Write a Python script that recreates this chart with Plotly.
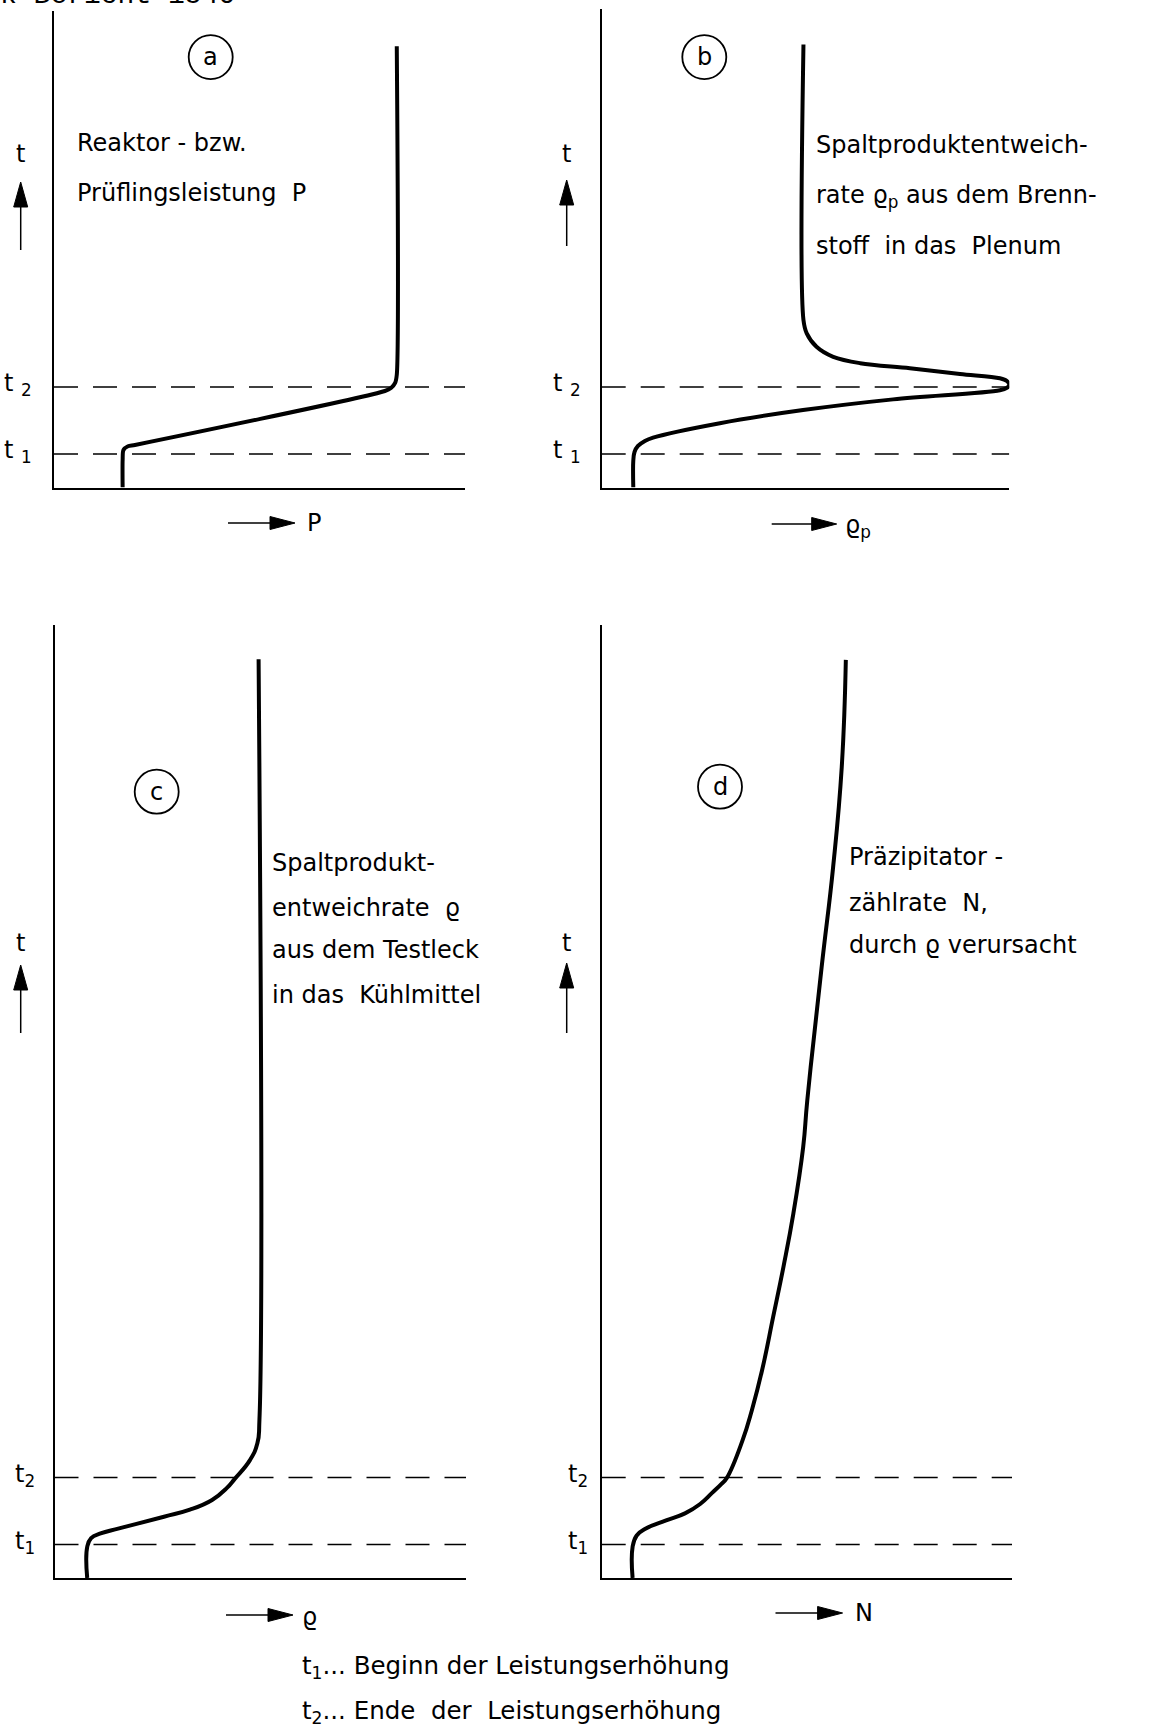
import plotly.graph_objects as go

W, H = 1163, 1728
FONT = "DejaVu Sans"

# time markers (t1 = start, t2 = end of power increase), in time units
T_MARKS = [1.0, 3.0]
T_LABELS = ["t<sub>1</sub>", "t<sub>2</sub>"]

# Panel a: Reaktor- bzw. Prüflingsleistung P (x in % of axis length)
a_t = [0, 0.82, 1.12, 1.23, 1.27, 2.88, 2.97, 3.12, 3.36, 13.17]
a_x = [16.7, 16.7, 16.9, 18.0, 19.7, 80.5, 82.0, 83.0, 83.4, 83.4]

# Panel b: Spaltproduktentweichrate rho_p (Brennstoff -> Plenum)
b_t = [0, 0.80, 1.06, 1.24, 1.39, 1.49, 1.92, 2.31, 2.63, 2.90, 2.97, 3.06,
       3.18, 3.26, 3.39, 3.56, 3.71, 3.90, 4.20, 4.60, 5.00, 13.22]
b_x = [7.75, 7.75, 8.05, 8.9, 10.6, 12.6, 29.0, 49.4, 71.5, 97.7, 99.4, 100.0,
       99.4, 97.7, 87.9, 75.6, 63.4, 56.8, 52.7, 50.3, 49.5, 49.5]

# Panel c: Spaltproduktentweichrate rho (Testleck -> Kühlmittel)
c_t = [0, 0.93, 1.19, 1.33, 1.48, 1.83, 2.04, 2.33, 2.69, 2.96, 3.52, 4.02, 4.72, 27.43]
c_x = [7.95, 7.95, 8.9, 11.2, 15.7, 26.6, 32.9, 38.3, 41.9, 43.8, 47.5, 49.3, 49.8, 49.6]

# Panel d: Präzipitatorzählrate N
d_t = [0, 0.93, 1.27, 1.47, 1.72, 1.93, 2.21, 2.54, 2.81, 2.99, 4.10, 5.01, 6.21,
       7.80, 9.29, 10.87, 12.86, 14.25, 18.23, 21.22, 24.20, 27.41]
d_x = [7.53, 7.53, 8.53, 10.65, 15.7, 20.3, 24.0, 26.9, 29.2, 30.5, 34.3, 36.6, 39.1,
       41.8, 44.3, 46.7, 49.1, 50.1, 53.6, 56.4, 58.5, 59.5]

X_RANGE = [0, 100]


def px(x):
    return x / W


def py(y):
    return 1 - y / H


# panel frames in pixels: (left, right, top, bottom, t-range top)
panels = {
    "a": dict(l=54, r=465, t=10.7, b=487.5, tmax=14.23, t_=a_t, x_=a_x, sm=0.8),
    "b": dict(l=601.7, r=1009.3, t=9, b=487.5, tmax=14.28, t_=b_t, x_=b_x, sm=1.0),
    "c": dict(l=54.5, r=466, t=625, b=1578, tmax=28.45, t_=c_t, x_=c_x, sm=1.3),
    "d": dict(l=601.7, r=1012, t=625, b=1578, tmax=28.45, t_=d_t, x_=d_x, sm=1.3),
}

fig = go.Figure()
layout = dict(
    width=W, height=H, margin=dict(l=0, r=0, t=0, b=0),
    paper_bgcolor="white", plot_bgcolor="white", showlegend=False,
    font=dict(family=FONT, color="black", size=24),
)

for i, (key, p) in enumerate(panels.items(), start=1):
    xa = "x" if i == 1 else f"x{i}"
    ya = "y" if i == 1 else f"y{i}"
    axis_common = dict(showline=True, linecolor="black", linewidth=2,
                       showticklabels=False, ticks="", showgrid=False,
                       zeroline=False, fixedrange=True)
    layout["xaxis" if i == 1 else f"xaxis{i}"] = dict(
        domain=[px(p["l"]), px(p["r"])], range=X_RANGE, anchor=ya, **axis_common)
    layout["yaxis" if i == 1 else f"yaxis{i}"] = dict(
        domain=[py(p["b"]), py(p["t"])], range=[0, p["tmax"]], anchor=xa, **axis_common)
    # dashed t1 / t2 lines
    for tm in T_MARKS:
        fig.add_trace(go.Scatter(x=X_RANGE, y=[tm, tm], mode="lines", xaxis=xa, yaxis=ya,
                                 line=dict(color="black", width=1.6, dash="24px,15px"),
                                 hoverinfo="skip"))
    # curve
    fig.add_trace(go.Scatter(x=p["x_"], y=p["t_"], mode="lines", xaxis=xa, yaxis=ya,
                             line=dict(color="black", width=4, shape="spline",
                                       smoothing=p["sm"]),
                             hoverinfo="skip"))

fig.update_layout(**layout)

shapes = []
ann = []


def text(x, y, s, size=24, xanchor="left", yanchor="middle", family=FONT):
    ann.append(dict(x=px(x), y=py(y), xref="paper", yref="paper", text=s,
                    showarrow=False, xanchor=xanchor, yanchor=yanchor,
                    font=dict(family=family, size=size, color="black")))


def circle_label(cx, cy, letter, r=22):
    shapes.append(dict(type="circle", xref="paper", yref="paper",
                       x0=px(cx - r), x1=px(cx + r), y0=py(cy + r), y1=py(cy - r),
                       line=dict(color="black", width=1.8)))
    text(cx, cy, letter, size=24, xanchor="center")


def arrow_up(x, y_tail, y_tip, hl=25, hw=14):
    shapes.append(dict(type="line", xref="paper", yref="paper",
                       x0=px(x), x1=px(x), y0=py(y_tail), y1=py(y_tip + hl - 2),
                       line=dict(color="black", width=1.5)))
    shapes.append(dict(type="path", xref="paper", yref="paper",
                       path=f"M {px(x - hw / 2)},{py(y_tip + hl)} L {px(x + hw / 2)},{py(y_tip + hl)} "
                            f"L {px(x)},{py(y_tip)} Z",
                       fillcolor="black", line=dict(color="black", width=1)))


def arrow_right(y, x_tail, x_tip, hl=25, hw=13):
    shapes.append(dict(type="line", xref="paper", yref="paper",
                       x0=px(x_tail), x1=px(x_tip - hl + 2), y0=py(y), y1=py(y),
                       line=dict(color="black", width=1.5)))
    shapes.append(dict(type="path", xref="paper", yref="paper",
                       path=f"M {px(x_tip - hl)},{py(y - hw / 2)} L {px(x_tip - hl)},{py(y + hw / 2)} "
                            f"L {px(x_tip)},{py(y)} Z",
                       fillcolor="black", line=dict(color="black", width=1)))


# header (cut off at the top of the scan)
ann.append(dict(x=px(-2), y=py(13), xref="paper", yref="paper", text="k Bericht 1540",
                showarrow=False, xanchor="left", yanchor="bottom",
                font=dict(family="Liberation Mono", size=28, color="black")))

# circled panel letters
circle_label(210.7, 57.1, "a")
circle_label(704.3, 57.1, "b")
circle_label(156.7, 791.7, "c")
circle_label(720, 786.7, "d")

# t axis labels with arrows
for (tx, ty, tip, tail) in [(20.7, 153.6, 182, 250), (566.7, 153.6, 180, 246),
                            (20.7, 943.3, 965, 1033), (566.7, 943.3, 963, 1033)]:
    text(tx, ty, "t", size=24, xanchor="center")
    arrow_up(tx, tail, tip)

# t1 / t2 labels beside each panel
px_per_t = {k: (p["b"] - p["t"]) / p["tmax"] for k, p in panels.items()}
label_right = {"a": 34, "b": 583, "c": 37, "d": 590}
for k, p in panels.items():
    for tm, lab in zip(T_MARKS, T_LABELS):
        yy = p["b"] - tm * px_per_t[k]
        text(label_right[k], yy - 2, lab.replace("t<sub>", "t <sub>") if k in "ab" else lab,
             size=24, xanchor="right")

# panel descriptions
text(75, 143, "Reaktor - bzw.")
text(75, 193, "Prüflingsleistung  P")
text(814, 144.6, "Spaltproduktentweich-")
text(814, 196.4, "rate ϱ<sub>p</sub> aus dem Brenn-")
text(814, 246.4, "stoff  in das  Plenum")
text(270, 863.3, "Spaltprodukt-")
text(270, 908.3, "entweichrate  ϱ")
text(270, 950, "aus dem Testleck")
text(270, 995, "in das  Kühlmittel")
text(846.7, 856.7, "Präzipitator -")
text(846.7, 903, "zählrate  N,")
text(846.7, 945, "durch ϱ verursacht")

# x-axis quantity arrows
arrow_right(523, 228, 295)
text(305, 523, "P", size=24)
arrow_right(524, 771.7, 836.7)
text(843, 526, "ϱ<sub>p</sub>", size=24)
arrow_right(1615, 226, 293)
text(300, 1617, "ϱ", size=24)
arrow_right(1613, 775.5, 842.6)
text(853, 1613, "N", size=24)

# legend of time marks
text(300, 1667, "t<sub>1</sub>... Beginn der Leistungserhöhung", size=24.5)
text(300, 1712, "t<sub>2</sub>... Ende  der  Leistungserhöhung", size=24.5)

fig.update_layout(shapes=shapes, annotations=ann)
fig.write_html("out.html")
